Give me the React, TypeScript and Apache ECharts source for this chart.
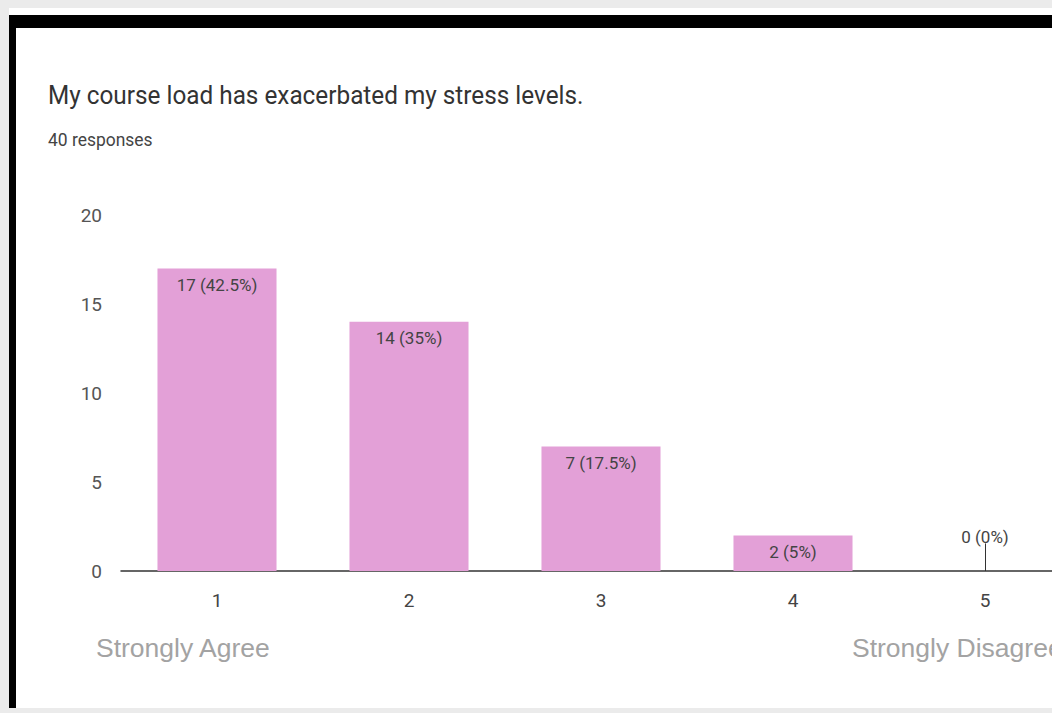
import React, { useEffect, useRef } from "react";
import * as echarts from "echarts";

const categories = ["1", "2", "3", "4", "5"];
const counts = [17, 14, 7, 2, 0];
const yTicks = [0, 5, 10, 15, 20];
const titleText = "My course load has exacerbated my stress levels.";
const subtitleText = "40 responses";
const leftScaleLabel = "Strongly Agree";
const rightScaleLabel = "Strongly Disagree";

export default function App() {
  const ref = useRef<HTMLDivElement>(null);
  useEffect(() => {
    if (!ref.current) return;
    const chart = echarts.init(ref.current, null, { renderer: "svg" });
    const total = counts.reduce((a, b) => a + b, 0);
    const font = "Roboto, 'Noto Sans', sans-serif";
    const barData = counts.map((v) => {
      const item: any = { value: v };
      if (v === 0) {
        item.label = { position: "top", distance: 26 };
      }
      return item;
    });
    chart.setOption({
      animation: false,
      backgroundColor: "#ebebeb",
      graphic: [
        { type: "rect", z: -10, shape: { x: 9, y: 8, width: 1200, height: 700 }, style: { fill: "#ffffff" } },
        { type: "rect", z: -9, shape: { x: 9, y: 15, width: 1200, height: 13 }, style: { fill: "#000000" } },
        { type: "rect", z: -9, shape: { x: 9, y: 15, width: 7, height: 693 }, style: { fill: "#000000" } },
        {
          type: "text", x: 48, y: 95, scaleX: 0.973,
          style: { text: titleText, font: `25px ${font}`, fill: "#333333", verticalAlign: "middle" },
        },
        {
          type: "text", x: 48, y: 140, scaleX: 0.97,
          style: { text: subtitleText, font: `18px ${font}`, fill: "#444444", verticalAlign: "middle" },
        },
        {
          type: "text", x: 96, y: 648,
          style: { text: leftScaleLabel, font: "26.5px 'Liberation Sans', Arial, sans-serif", fill: "#a3a3a3", verticalAlign: "middle" },
        },
        {
          type: "text", x: 852, y: 648,
          style: { text: rightScaleLabel, font: "26.5px 'Liberation Sans', Arial, sans-serif", fill: "#a3a3a3", verticalAlign: "middle" },
        },
      ],
      grid: { left: 121, right: 19, top: 215, bottom: 142, containLabel: false },
      xAxis: {
        type: "category",
        data: categories,
        axisLine: { show: true, lineStyle: { color: "#333333", width: 1.5 } },
        axisTick: { show: false },
        axisLabel: { color: "#444444", fontSize: 19, fontFamily: font, margin: 20 },
      },
      yAxis: {
        type: "value",
        min: yTicks[0],
        max: yTicks[yTicks.length - 1],
        interval: 5,
        axisLine: { show: false },
        axisTick: { show: false },
        splitLine: { show: false },
        axisLabel: { color: "#555555", fontSize: 19, fontFamily: font, margin: 19 },
      },
      series: [
        {
          type: "bar",
          data: barData,
          barCategoryGap: "38%",
          itemStyle: { color: "#e3a0d7" },
          label: {
            show: true,
            position: "insideTop",
            distance: 8,
            color: "#444444",
            fontSize: 17,
            fontFamily: font,
            formatter: (p: any) => `${p.value} (${Math.round((p.value / total) * 1000) / 10}%)`,
          },
          markLine: {
            silent: true,
            symbol: "none",
            label: { show: false },
            lineStyle: { color: "#333333", width: 1, type: "solid" },
            data: counts
              .map((v, i) => ({ v, i }))
              .filter((d) => d.v === 0)
              .map((d) => [
                { coord: [categories[d.i], 0] },
                { coord: [categories[d.i], 1.55] },
              ]),
          },
        },
      ],
    });
    return () => chart.dispose();
  }, []);
  return (
    <div style={{ position: "fixed", left: 0, top: 0, width: 1052, height: 713, overflow: "hidden" }}>
      <div ref={ref} style={{ position: "absolute", left: 0, top: 0, width: 1100, height: 713 }} />
    </div>
  );
}
